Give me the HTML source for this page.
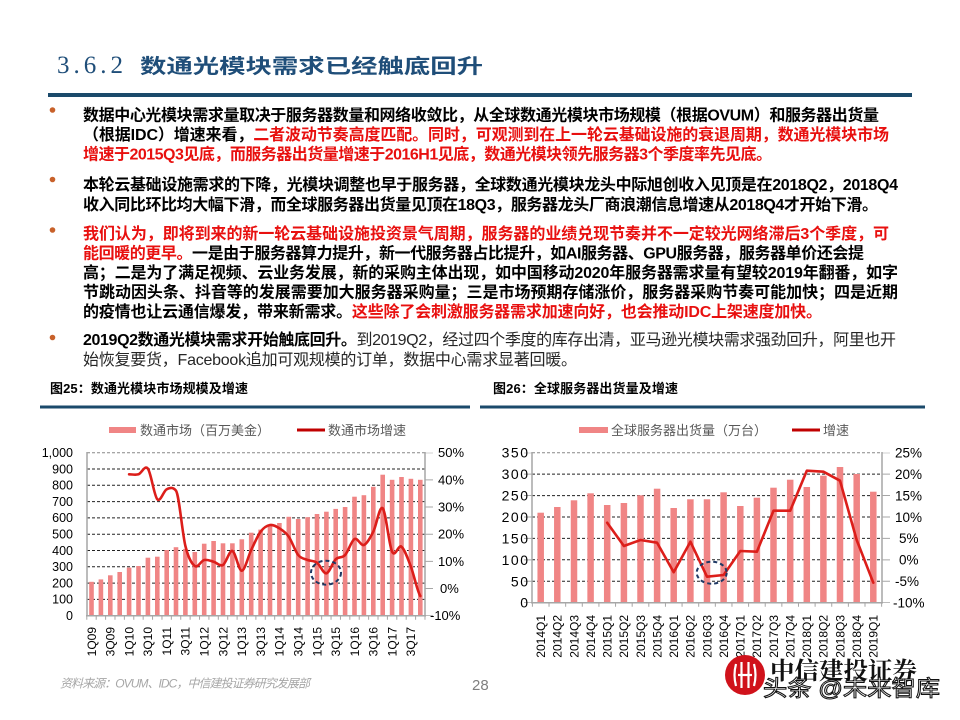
<!DOCTYPE html>
<html><head><meta charset="utf-8">
<style>
html,body{margin:0;padding:0;background:#fff;}
body{width:960px;height:720px;overflow:hidden;position:relative;}
svg{position:absolute;left:0;top:0;}
</style></head>
<body>
<svg width="960" height="720" viewBox="0 0 960 720" xmlns="http://www.w3.org/2000/svg">
<rect width="960" height="720" fill="#fff"/>
<!-- Title -->
<text x="57" y="73" font-family="'Liberation Serif',serif" font-size="25" letter-spacing="4" fill="#1f4e79">3.6.2</text>
<text x="140" y="73" font-family="'Liberation Sans','Noto Sans CJK SC',sans-serif" font-size="20" font-weight="bold" fill="#1f4e79" textLength="343" lengthAdjust="spacingAndGlyphs">数通光模块需求已经触底回升</text>
<rect x="48" y="93" width="864" height="4" fill="#1b4a6b"/>

<!-- Bullets -->
<g fill="#c8612a">
<circle cx="52.5" cy="110" r="2.8"/>
<circle cx="52.5" cy="179.5" r="2.8"/>
<circle cx="52.5" cy="230" r="2.8"/>
<circle cx="52.5" cy="337.5" r="2.8"/>
</g>

<!-- Paragraphs -->
<g font-family="'Liberation Sans','Noto Sans CJK SC',sans-serif" font-size="16" font-weight="bold" fill="#000">
<text x="83" y="120.6" textLength="796" lengthAdjust="spacing">数据中心光模块需求量取决于服务器数量和网络收敛比，从全球数通光模块市场规模（根据OVUM）和服务器出货量</text>
<text x="83" y="140.1" textLength="806" lengthAdjust="spacing">（根据IDC）增速来看，<tspan fill="#e8100f">二者波动节奏高度匹配。同时，可观测到在上一轮云基础设施的衰退周期，数通光模块市场</tspan></text>
<text x="83" y="159.6" textLength="689" lengthAdjust="spacing" fill="#e8100f">增速于2015Q3见底，而服务器出货量增速于2016H1见底，数通光模块领先服务器3个季度率先见底。</text>

<text x="83" y="190" textLength="815" lengthAdjust="spacing">本轮云基础设施需求的下降，光模块调整也早于服务器，全球数通光模块龙头中际旭创收入见顶是在2018Q2，2018Q4</text>
<text x="83" y="210" textLength="795" lengthAdjust="spacing">收入同比环比均大幅下滑，而全球服务器出货量见顶在18Q3，服务器龙头厂商浪潮信息增速从2018Q4才开始下滑。</text>

<text x="83" y="239" textLength="806" lengthAdjust="spacing" fill="#e8100f">我们认为，即将到来的新一轮云基础设施投资景气周期，服务器的业绩兑现节奏并不一定较光网络滞后3个季度，可</text>
<text x="83" y="258.5" textLength="781" lengthAdjust="spacing"><tspan fill="#e8100f">能回暖的更早。</tspan>一是由于服务器算力提升，新一代服务器占比提升，如AI服务器、GPU服务器，服务器单价还会提</text>
<text x="83" y="278" textLength="815" lengthAdjust="spacing">高；二是为了满足视频、云业务发展，新的采购主体出现，如中国移动2020年服务器需求量有望较2019年翻番，如字</text>
<text x="83" y="297.5" textLength="815" lengthAdjust="spacing">节跳动因头条、抖音等的发展需要加大服务器采购量；三是市场预期存储涨价，服务器采购节奏可能加快；四是近期</text>
<text x="83" y="317" textLength="739" lengthAdjust="spacing">的疫情也让云通信爆发，带来新需求。<tspan fill="#e8100f">这些除了会刺激服务器需求加速向好，也会推动IDC上架速度加快。</tspan></text>

<text x="83" y="345" textLength="813" lengthAdjust="spacing">2019Q2数通光模块需求开始触底回升。<tspan font-weight="normal" fill="#262626">到2019Q2，经过四个季度的库存出清，亚马逊光模块需求强劲回升，阿里也开</tspan></text>
<text x="83" y="365" textLength="494" lengthAdjust="spacing" font-weight="normal" fill="#262626">始恢复要货，Facebook追加可观规模的订单，数据中心需求显著回暖。</text>
</g>

<!-- Chart titles -->
<g font-family="'Liberation Sans','Noto Sans CJK SC',sans-serif" font-size="13" font-weight="bold" fill="#000">
<text x="50" y="393" textLength="198" lengthAdjust="spacing">图25：数通光模块市场规模及增速</text>
<text x="493" y="393" textLength="185" lengthAdjust="spacing">图26：全球服务器出货量及增速</text>
</g>
<rect x="40" y="405.5" width="430" height="3" fill="#1b4a6b"/>
<rect x="480" y="405.5" width="445" height="3" fill="#1b4a6b"/>

<!-- ===== LEFT CHART ===== -->
<g font-family="'Liberation Sans','Noto Sans CJK SC',sans-serif" font-size="13" fill="#595959">
<rect x="109" y="427" width="27" height="6" fill="#f08585"/>
<text x="140" y="435">数通市场（百万美金）</text>
<line x1="297" y1="430" x2="325" y2="430" stroke="#c00000" stroke-width="3"/>
<text x="328" y="435">数通市场增速</text>
</g>
<g stroke="#222" stroke-width="1" stroke-dasharray="3 2" fill="none">
<line x1="87" y1="599.4" x2="425" y2="599.4"/>
<line x1="87" y1="583.1" x2="425" y2="583.1"/>
<line x1="87" y1="566.8" x2="425" y2="566.8"/>
<line x1="87" y1="550.5" x2="425" y2="550.5"/>
<line x1="87" y1="534.2" x2="425" y2="534.2"/>
<line x1="87" y1="517.9" x2="425" y2="517.9"/>
<line x1="87" y1="501.6" x2="425" y2="501.6"/>
<line x1="87" y1="485.3" x2="425" y2="485.3"/>
<line x1="87" y1="469.0" x2="425" y2="469.0"/>
<line x1="87" y1="452.7" x2="425" y2="452.7" stroke="#888"/>
</g>
<g fill="#f08585">
<rect x="89.2" y="581.8" width="4.6" height="33.9"/>
<rect x="98.6" y="579.4" width="4.6" height="36.3"/>
<rect x="108.0" y="575.3" width="4.6" height="40.4"/>
<rect x="117.4" y="572.0" width="4.6" height="43.7"/>
<rect x="126.8" y="567.6" width="4.6" height="48.1"/>
<rect x="136.2" y="566.0" width="4.6" height="49.7"/>
<rect x="145.6" y="557.7" width="4.6" height="58.0"/>
<rect x="155.0" y="556.7" width="4.6" height="59.0"/>
<rect x="164.4" y="550.0" width="4.6" height="65.7"/>
<rect x="173.7" y="547.2" width="4.6" height="68.5"/>
<rect x="183.1" y="548.9" width="4.6" height="66.8"/>
<rect x="192.5" y="552.0" width="4.6" height="63.7"/>
<rect x="201.9" y="543.7" width="4.6" height="72.0"/>
<rect x="211.3" y="541.0" width="4.6" height="74.7"/>
<rect x="220.7" y="543.3" width="4.6" height="72.4"/>
<rect x="230.1" y="543.3" width="4.6" height="72.4"/>
<rect x="239.5" y="539.3" width="4.6" height="76.4"/>
<rect x="248.9" y="532.7" width="4.6" height="83.0"/>
<rect x="258.3" y="529.6" width="4.6" height="86.1"/>
<rect x="267.7" y="526.0" width="4.6" height="89.7"/>
<rect x="277.1" y="523.0" width="4.6" height="92.7"/>
<rect x="286.5" y="516.8" width="4.6" height="98.9"/>
<rect x="295.9" y="519.0" width="4.6" height="96.7"/>
<rect x="305.3" y="517.2" width="4.6" height="98.5"/>
<rect x="314.7" y="514.0" width="4.6" height="101.7"/>
<rect x="324.1" y="511.7" width="4.6" height="104.0"/>
<rect x="333.4" y="508.9" width="4.6" height="106.8"/>
<rect x="342.8" y="507.0" width="4.6" height="108.7"/>
<rect x="352.2" y="496.7" width="4.6" height="119.0"/>
<rect x="361.6" y="495.2" width="4.6" height="120.5"/>
<rect x="371.0" y="486.8" width="4.6" height="128.9"/>
<rect x="380.4" y="474.7" width="4.6" height="141.0"/>
<rect x="389.8" y="479.8" width="4.6" height="135.9"/>
<rect x="399.2" y="477.0" width="4.6" height="138.7"/>
<rect x="408.6" y="478.8" width="4.6" height="136.9"/>
<rect x="418.0" y="479.8" width="4.6" height="135.9"/>
</g>
<g stroke="#a6a6a6" stroke-width="1.5" fill="none">
<line x1="87" y1="452" x2="87" y2="616"/>
<line x1="425" y1="452" x2="425" y2="616"/>
<line x1="86" y1="615.7" x2="426" y2="615.7"/>
<line x1="86.3" y1="617.7" x2="426" y2="617.7" stroke-width="4" stroke-dasharray="1 8.394"/>
<line x1="429" y1="452.7" x2="429" y2="616" stroke-width="8" stroke-dasharray="1 26.17" stroke-dashoffset="0.5"/>
</g>
<path fill="none" stroke="#dc1e1a" stroke-width="2.6" stroke-linejoin="round" stroke-linecap="round" d="M129.1,474.3 C132.2,474.3 135.4,475.2 138.5,474.3 C141.6,473.4 144.8,464.5 147.9,468.7 C151.0,472.9 154.2,495.9 157.3,499.3 C160.4,502.7 163.6,490.7 166.7,489.3 C169.8,487.9 172.9,486.7 176.0,490.7 C179.1,494.7 182.3,533.5 185.4,546 C188.5,558.6 191.7,563.7 194.8,566 C197.9,568.3 201.1,560.7 204.2,560 C207.3,559.3 210.5,560.9 213.6,561.7 C216.7,562.5 219.9,566.8 223.0,565 C226.1,563.2 229.3,550.1 232.4,551 C235.5,552.0 238.7,570.9 241.8,570.7 C244.9,570.5 248.1,556.5 251.2,550 C254.3,543.5 257.5,535.9 260.6,531.7 C263.7,527.5 266.9,525.6 270.0,525 C273.1,524.4 276.3,526.4 279.4,528.3 C282.5,530.3 285.7,532.3 288.8,536.7 C291.9,541.2 295.1,551.1 298.2,555 C301.3,558.9 304.5,558.7 307.6,560 C310.7,561.3 313.9,560.5 317.0,562.7 C320.1,564.9 323.3,573.9 326.4,573.3 C329.5,572.7 332.6,562.4 335.7,559.3 C338.8,556.3 342.0,558.4 345.1,555 C348.2,551.6 351.4,540.7 354.5,539 C357.6,537.3 360.8,546.2 363.9,545 C367.0,543.8 370.2,537.8 373.3,531.7 C376.4,525.6 379.6,505.0 382.7,508.3 C385.8,511.6 389.0,545.3 392.1,551.7 C395.2,558.1 398.4,544.2 401.5,546.7 C404.6,549.2 407.8,558.5 410.9,566.7 C414.0,574.9 417.2,591.1 420.3,596"/>
<ellipse cx="326" cy="572.7" rx="15" ry="12" fill="none" stroke="#1f3864" stroke-width="2" stroke-dasharray="4 3"/>
<g font-family="'Liberation Sans',sans-serif" font-size="12.5" fill="#000" text-anchor="end">
<text x="73" y="620">0</text>
<text x="73" y="603.7">100</text>
<text x="73" y="587.4">200</text>
<text x="73" y="571.1">300</text>
<text x="73" y="554.8">400</text>
<text x="73" y="538.5">500</text>
<text x="73" y="522.2">600</text>
<text x="73" y="505.9">700</text>
<text x="73" y="489.6">800</text>
<text x="73" y="473.3">900</text>
<text x="73" y="457">1,000</text>
</g>
<g font-family="'Liberation Sans',sans-serif" font-size="13" fill="#000">
<text x="438" y="457.2">50%</text>
<text x="438" y="484.4">40%</text>
<text x="438" y="511.6">30%</text>
<text x="438" y="538.7">20%</text>
<text x="438" y="565.9">10%</text>
<text x="440" y="593">0%</text>
<text x="430" y="620.2">-10%</text>
</g>
<g font-family="'Liberation Sans',sans-serif" font-size="12" fill="#000" text-anchor="end">
<text transform="translate(95.8,627) rotate(-90)">1Q09</text>
<text transform="translate(114.6,627) rotate(-90)">3Q09</text>
<text transform="translate(133.4,627) rotate(-90)">1Q10</text>
<text transform="translate(152.2,627) rotate(-90)">3Q10</text>
<text transform="translate(171.0,627) rotate(-90)">1Q11</text>
<text transform="translate(189.7,627) rotate(-90)">3Q11</text>
<text transform="translate(208.5,627) rotate(-90)">1Q12</text>
<text transform="translate(227.3,627) rotate(-90)">3Q12</text>
<text transform="translate(246.1,627) rotate(-90)">1Q13</text>
<text transform="translate(264.9,627) rotate(-90)">3Q13</text>
<text transform="translate(283.7,627) rotate(-90)">1Q14</text>
<text transform="translate(302.5,627) rotate(-90)">3Q14</text>
<text transform="translate(321.3,627) rotate(-90)">1Q15</text>
<text transform="translate(340.0,627) rotate(-90)">3Q15</text>
<text transform="translate(358.8,627) rotate(-90)">1Q16</text>
<text transform="translate(377.6,627) rotate(-90)">3Q16</text>
<text transform="translate(396.4,627) rotate(-90)">1Q17</text>
<text transform="translate(415.2,627) rotate(-90)">3Q17</text>
</g>

<!-- ===== RIGHT CHART ===== -->
<g font-family="'Liberation Sans','Noto Sans CJK SC',sans-serif" font-size="13" fill="#595959">
<rect x="579" y="427" width="29" height="6" fill="#f08585"/>
<text x="611" y="435">全球服务器出货量（万台）</text>
<line x1="792" y1="430" x2="820" y2="430" stroke="#c00000" stroke-width="3"/>
<text x="823" y="435">增速</text>
</g>
<g stroke="#222" stroke-width="1" stroke-dasharray="3 2" fill="none">
<line x1="532" y1="581.3" x2="882" y2="581.3"/>
<line x1="532" y1="559.8" x2="882" y2="559.8"/>
<line x1="532" y1="538.4" x2="882" y2="538.4"/>
<line x1="532" y1="517.0" x2="882" y2="517.0"/>
<line x1="532" y1="495.6" x2="882" y2="495.6"/>
<line x1="532" y1="474.1" x2="882" y2="474.1"/>
<line x1="532" y1="452.7" x2="882" y2="452.7" stroke="#888"/>
</g>
<g fill="#f08585">
<rect x="537.45" y="512.7" width="6.5" height="90.0"/>
<rect x="554.05" y="507.0" width="6.5" height="95.7"/>
<rect x="570.75" y="500.3" width="6.5" height="102.4"/>
<rect x="587.35" y="493.3" width="6.5" height="109.4"/>
<rect x="603.95" y="505.0" width="6.5" height="97.7"/>
<rect x="620.65" y="503.0" width="6.5" height="99.7"/>
<rect x="637.25" y="495.3" width="6.5" height="107.4"/>
<rect x="653.85" y="488.7" width="6.5" height="114.0"/>
<rect x="670.45" y="508.0" width="6.5" height="94.7"/>
<rect x="687.15" y="499.3" width="6.5" height="103.4"/>
<rect x="703.75" y="499.3" width="6.5" height="103.4"/>
<rect x="720.35" y="492.3" width="6.5" height="110.4"/>
<rect x="737.05" y="506.0" width="6.5" height="96.7"/>
<rect x="753.65" y="497.7" width="6.5" height="105.0"/>
<rect x="770.25" y="487.7" width="6.5" height="115.0"/>
<rect x="786.95" y="479.7" width="6.5" height="123.0"/>
<rect x="803.55" y="487.0" width="6.5" height="115.7"/>
<rect x="820.15" y="475.7" width="6.5" height="127.0"/>
<rect x="836.75" y="467.0" width="6.5" height="135.7"/>
<rect x="853.45" y="474.0" width="6.5" height="128.7"/>
<rect x="870.05" y="491.7" width="6.5" height="111.0"/>
</g>
<g stroke="#a6a6a6" stroke-width="1.5" fill="none">
<line x1="532" y1="452" x2="532" y2="603"/>
<line x1="882" y1="452" x2="882" y2="603"/>
<line x1="531" y1="602.7" x2="883" y2="602.7"/>
<line x1="531.9" y1="604.7" x2="883" y2="604.7" stroke-width="4" stroke-dasharray="1 15.63"/>
<line x1="886" y1="452.7" x2="886" y2="603" stroke-width="8" stroke-dasharray="1 20.43" stroke-dashoffset="0.5"/>
<line x1="528" y1="452.7" x2="528" y2="603" stroke-width="8" stroke-dasharray="1 20.43" stroke-dashoffset="0.5"/>
</g>
<polyline fill="none" stroke="#dc1e1a" stroke-width="2.6" stroke-linejoin="round" stroke-linecap="round" points="607.2,522.7 623.9,546 640.5,540 657.1,542.7 673.7,572.3 690.4,541.7 707.0,576.7 723.6,575 740.3,551 756.9,551.7 773.5,510.7 790.2,510.7 806.8,470.7 823.4,471.7 840.0,480.7 856.7,540 873.3,582.7"/>
<ellipse cx="711.7" cy="572.7" rx="15" ry="11" fill="none" stroke="#1f3864" stroke-width="2" stroke-dasharray="4 3"/>
<g font-family="'Liberation Sans',sans-serif" font-size="14" fill="#000" text-anchor="end" letter-spacing="1.5">
<text x="529.5" y="607.7">0</text>
<text x="529.5" y="586.3">50</text>
<text x="529.5" y="564.8">100</text>
<text x="529.5" y="543.4">150</text>
<text x="529.5" y="522">200</text>
<text x="529.5" y="500.6">250</text>
<text x="529.5" y="479.1">300</text>
<text x="529.5" y="457.7">350</text>
</g>
<g font-family="'Liberation Sans',sans-serif" font-size="13.5" fill="#000">
<text x="895" y="457.5">25%</text>
<text x="895" y="478.9">20%</text>
<text x="895" y="500.4">15%</text>
<text x="895" y="521.8">10%</text>
<text x="899" y="543.2">5%</text>
<text x="899" y="564.6">0%</text>
<text x="895" y="586.1">-5%</text>
<text x="893" y="607.5">-10%</text>
</g>
<g font-family="'Liberation Sans',sans-serif" font-size="12" fill="#000" text-anchor="end">
<text transform="translate(545.0,615) rotate(-90)">2014Q1</text>
<text transform="translate(561.6,615) rotate(-90)">2014Q2</text>
<text transform="translate(578.3,615) rotate(-90)">2014Q3</text>
<text transform="translate(594.9,615) rotate(-90)">2014Q4</text>
<text transform="translate(611.5,615) rotate(-90)">2015Q1</text>
<text transform="translate(628.2,615) rotate(-90)">2015Q2</text>
<text transform="translate(644.8,615) rotate(-90)">2015Q3</text>
<text transform="translate(661.4,615) rotate(-90)">2015Q4</text>
<text transform="translate(678.0,615) rotate(-90)">2016Q1</text>
<text transform="translate(694.7,615) rotate(-90)">2016Q2</text>
<text transform="translate(711.3,615) rotate(-90)">2016Q3</text>
<text transform="translate(727.9,615) rotate(-90)">2016Q4</text>
<text transform="translate(744.6,615) rotate(-90)">2017Q1</text>
<text transform="translate(761.2,615) rotate(-90)">2017Q2</text>
<text transform="translate(777.8,615) rotate(-90)">2017Q3</text>
<text transform="translate(794.5,615) rotate(-90)">2017Q4</text>
<text transform="translate(811.1,615) rotate(-90)">2018Q1</text>
<text transform="translate(827.7,615) rotate(-90)">2018Q2</text>
<text transform="translate(844.3,615) rotate(-90)">2018Q3</text>
<text transform="translate(861.0,615) rotate(-90)">2018Q4</text>
<text transform="translate(877.6,615) rotate(-90)">2019Q1</text>
</g>

<!-- Footer -->
<text x="60" y="687.5" font-family="'Liberation Sans','Noto Sans CJK SC',sans-serif" font-size="12" font-style="italic" fill="#a6a6a6" textLength="250" lengthAdjust="spacing">资料来源：OVUM、IDC，中信建投证券研究发展部</text>
<text x="472" y="690" font-family="'Liberation Sans',sans-serif" font-size="15" fill="#7f7f7f">28</text>

<!-- Logo -->
<circle cx="745" cy="675" r="20" fill="#d0121b"/>
<g stroke="#fff" stroke-width="2.2" fill="none">
<path d="M736 664 Q733 675 736 686"/>
<path d="M754 664 Q757 675 754 686"/>
<line x1="741.5" y1="662" x2="741.5" y2="688"/>
<line x1="748.5" y1="662" x2="748.5" y2="688"/>
<line x1="738" y1="675" x2="752" y2="675"/>
</g>
<text x="770" y="679" font-family="'Noto Serif CJK SC','Noto Sans CJK SC',serif" font-size="24" font-weight="bold" fill="#111" textLength="147" lengthAdjust="spacingAndGlyphs">中信建投证券</text>
<text x="763" y="696" font-family="'Liberation Sans','Noto Sans CJK SC',sans-serif" font-size="22" fill="#fff" stroke="#111" stroke-width="1" textLength="177" lengthAdjust="spacingAndGlyphs">头条 @未来智库</text>
</svg>
</body></html>
